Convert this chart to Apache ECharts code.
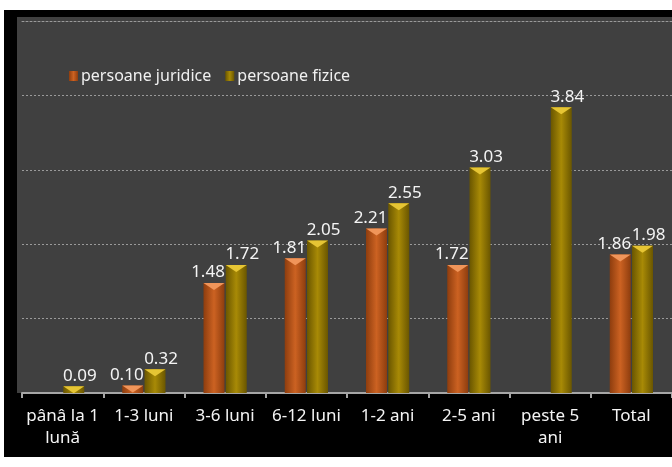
<!DOCTYPE html>
<html>
<head>
<meta charset="utf-8">
<script src="https://cdn.jsdelivr.net/npm/echarts@6/dist/echarts.min.js"></script>
<style>
  html, body { margin: 0; padding: 0; background: #ffffff; }
  #frame { position: absolute; left: 4px; top: 10px; width: 668px; height: 447px; background: #000000; }
  #plotbg { position: absolute; left: 17px; top: 17px; width: 655px; height: 376px; background: #404040; }
  #chart { position: absolute; left: 0; top: 0; width: 672px; height: 467px; }
</style>
</head>
<body>
<div id="frame"></div>
<div id="plotbg"></div>
<div id="chart"></div>
<script>
// ---- data ----
const categories = ['pânâ la 1\nlună', '1-3 luni', '3-6 luni', '6-12 luni', '1-2 ani', '2-5 ani', 'peste 5\nani', 'Total'];
const juridice = [null, 0.10, 1.48, 1.81, 2.21, 1.72, null, 1.86];
const fizice = [0.09, 0.32, 1.72, 2.05, 2.55, 3.03, 3.84, 1.98];
const seriesNames = ['persoane juridice', 'persoane fizice'];
const yTicks = [0, 1, 2, 3, 4, 5];

const FONT = 'Noto Sans';
const BW = 21;
const GAP = '6%';

function gridLine() {
  return { color: '#9a9a9a', type: [2, 2], width: 1 };
}

function hGrad(edge, mid) {
  return new echarts.graphic.LinearGradient(0, 0, 1, 0, [
    { offset: 0, color: edge },
    { offset: 0.5, color: mid },
    { offset: 1, color: edge }
  ]);
}

const chart = echarts.init(document.getElementById('chart'), null, { renderer: 'canvas' });

const labelBase = {
  show: true,
  position: 'top',
  distance: 2,
  color: '#f4f4f4',
  fontFamily: FONT,
  fontSize: 17,
  formatter: p => p.value == null ? '' : Number(p.value).toFixed(2)
};

const triPath = 'path://M0,0 L10,0 L5,5 Z';

chart.setOption({
  animation: false,
  backgroundColor: 'transparent',
  textStyle: { fontFamily: FONT },
  legend: {
    data: seriesNames,
    left: 64,
    top: 63,
    icon: 'rect',
    itemWidth: 9,
    itemHeight: 10,
    itemGap: 14,
    textStyle: { color: '#f0f0f0', fontSize: 16, fontFamily: FONT, padding: [0, 0, 0, -2] }
  },
  grid: { left: 22, right: -2, top: 21, bottom: 74, containLabel: false },
  xAxis: [
    {
      type: 'category',
      data: categories,
      position: 'bottom',
      axisLine: { lineStyle: { color: '#a6a6a6', width: 2 } },
      axisTick: { show: true, length: 5, lineStyle: { color: '#a6a6a6', width: 2 } },
      axisLabel: {
        color: '#f4f4f4',
        fontSize: 17,
        fontFamily: FONT,
        margin: 12,
        lineHeight: 22,
        interval: 0
      }
    },
    {
      type: 'category',
      data: categories,
      position: 'top',
      axisLine: { show: true, lineStyle: gridLine() },
      axisTick: { show: false },
      axisLabel: { show: false },
      splitLine: { show: false }
    }
  ],
  yAxis: {
    type: 'value',
    min: yTicks[0],
    max: yTicks[yTicks.length - 1],
    interval: 1,
    axisLine: { show: false },
    axisTick: { show: false },
    axisLabel: { show: false },
    splitLine: { show: true, lineStyle: gridLine() }
  },
  series: [
    {
      name: seriesNames[0],
      type: 'bar',
      data: juridice,
      barWidth: BW,
      barGap: GAP,
      itemStyle: { color: hGrad('#8e3d0e', '#cc6222') },
      label: Object.assign({}, labelBase, { offset: [-6, 0] })
    },
    {
      name: seriesNames[1],
      type: 'bar',
      data: fizice,
      barWidth: BW,
      barGap: GAP,
      itemStyle: { color: hGrad('#6a5600', '#a88a06') },
      label: Object.assign({}, labelBase, { offset: [6, 0] })
    },
    {
      name: 'capJ',
      type: 'pictorialBar',
      data: juridice,
      barWidth: BW,
      barGap: GAP,
      symbol: triPath,
      symbolSize: [BW, 7],
      symbolPosition: 'end',
      z: 5,
      itemStyle: { color: '#f0955a' },
      silent: true
    },
    {
      name: 'capF',
      type: 'pictorialBar',
      data: fizice,
      barWidth: BW,
      barGap: GAP,
      symbol: triPath,
      symbolSize: [BW, 7],
      symbolPosition: 'end',
      z: 5,
      itemStyle: { color: '#e6c534' },
      silent: true
    }
  ]
});
</script>
</body>
</html>
